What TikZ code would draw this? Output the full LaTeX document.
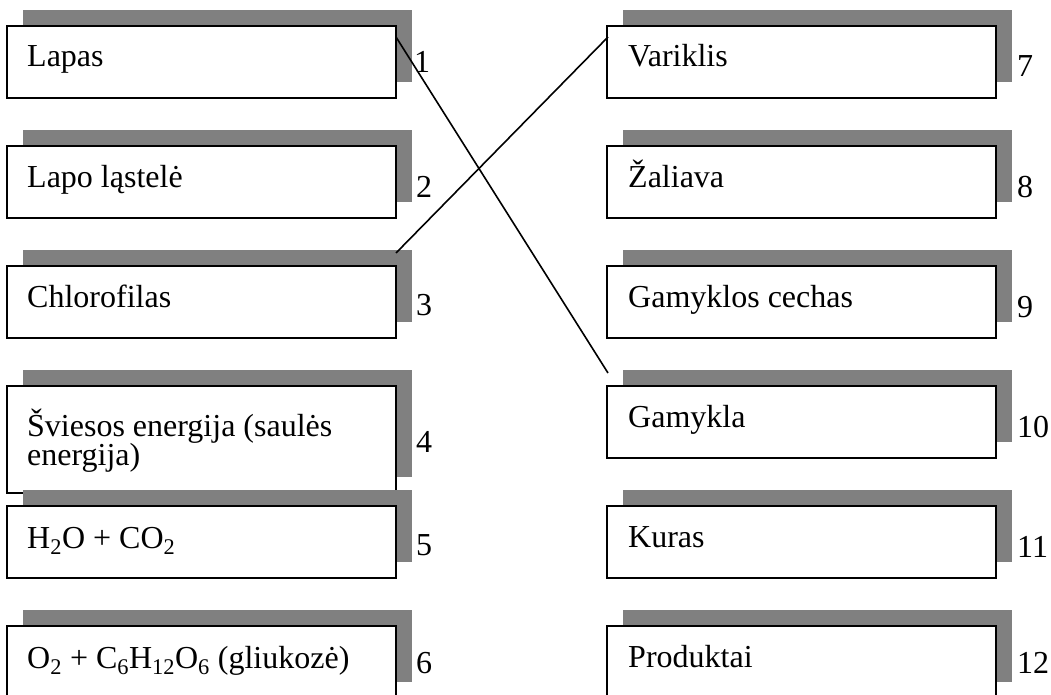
\documentclass[tikz,border=0pt]{standalone}
\usepackage{fontspec}
\setmainfont{Liberation Serif}
\usetikzlibrary{calc}
\definecolor{shadowgray}{RGB}{128,128,128}
\begin{document}
\begin{tikzpicture}[x=1pt,y=-1pt,
  shadowbox/.style={fill=shadowgray, draw=none, inner sep=0pt, outer sep=0pt, minimum width=389pt, minimum height=72pt, anchor=north west},
  cardbox/.style={draw=black, fill=white, line width=1.7pt, inner sep=0pt, outer sep=0pt, minimum width=389pt, minimum height=72pt, anchor=north west},
  cardtext/.style={anchor=base west, inner sep=0pt, font=\fontsize{32pt}{38pt}\selectfont},
  numtext/.style={anchor=base west, inner sep=0pt, font=\fontsize{32pt}{38pt}\selectfont},
  link/.style={draw=black, line width=1.6pt}
]
\useasboundingbox (0,0) rectangle (1051,695);
\clip (0,0) rectangle (1051,695);

% ---------- left column ----------
\node[shadowbox] (ls1) at (23,10) {};
\node[cardbox] (l1) at (7,26) {};
\node[cardtext] (lt1) at (27,67) {Lapas};
\node[numtext] (ln1) at (414,73) {1};

\node[shadowbox] (ls2) at (23,130) {};
\node[cardbox] (l2) at (7,146) {};
\node[cardtext] (lt2) at (27,187) {Lapo ląstelė};
\node[numtext] (ln2) at (416,197) {2};

\node[shadowbox] (ls3) at (23,250) {};
\node[cardbox] (l3) at (7,266) {};
\node[cardtext] (lt3) at (27,307) {Chlorofilas};
\node[numtext] (ln3) at (416,315) {3};

\node[shadowbox, minimum height=107pt] (ls4) at (23,370) {};
\node[cardbox, minimum height=107pt] (l4) at (7,386) {};
\node[cardtext] (lt4a) at (27,436) {Šviesos energija (saulės};
\node[cardtext] (lt4b) at (27,465) {energija)};
\node[numtext] (ln4) at (416,452) {4};

\node[shadowbox] (ls5) at (23,490) {};
\node[cardbox] (l5) at (7,506) {};
\node[cardtext] (lt5) at (27,548) {H\textsubscript{2}O + CO\textsubscript{2}};
\node[numtext] (ln5) at (416,555) {5};

\node[shadowbox] (ls6) at (23,610) {};
\node[cardbox] (l6) at (7,626) {};
\node[cardtext] (lt6) at (27,668) {O\textsubscript{2} + C\textsubscript{6}H\textsubscript{12}O\textsubscript{6} (gliukozė)};
\node[numtext] (ln6) at (416,673) {6};

% ---------- right column ----------
\node[shadowbox] (rs1) at (623,10) {};
\node[cardbox] (r1) at (607,26) {};
\node[cardtext] (rt1) at (628,67) {Variklis};
\node[numtext] (rn1) at (1017,77) {7};

\node[shadowbox] (rs2) at (623,130) {};
\node[cardbox] (r2) at (607,146) {};
\node[cardtext] (rt2) at (628,187) {Žaliava};
\node[numtext] (rn2) at (1017,197) {8};

\node[shadowbox] (rs3) at (623,250) {};
\node[cardbox] (r3) at (607,266) {};
\node[cardtext] (rt3) at (628,307) {Gamyklos cechas};
\node[numtext] (rn3) at (1017,317) {9};

\node[shadowbox] (rs4) at (623,370) {};
\node[cardbox] (r4) at (607,386) {};
\node[cardtext] (rt4) at (628,427) {Gamykla};
\node[numtext] (rn4) at (1017,437) {10};

\node[shadowbox] (rs5) at (623,490) {};
\node[cardbox] (r5) at (607,506) {};
\node[cardtext] (rt5) at (628,547) {Kuras};
\node[numtext] (rn5) at (1017,557) {11};

\node[shadowbox] (rs6) at (623,610) {};
\node[cardbox] (r6) at (607,626) {};
\node[cardtext] (rt6) at (628,667) {Produktai};
\node[numtext] (rn6) at (1017,673) {12};

% ---------- connectors ----------
\coordinate (c1a) at ($(l1.north east)+(0,11)$);
\coordinate (c1b) at ($(r4.north west)+(1,-13)$);
\coordinate (c2a) at ($(l3.north east)+(0,-13)$);
\coordinate (c2b) at ($(r1.north west)+(1,11)$);
\draw[link] (c1a) -- (c1b);
\draw[link] (c2a) -- (c2b);
\end{tikzpicture}
\end{document}
